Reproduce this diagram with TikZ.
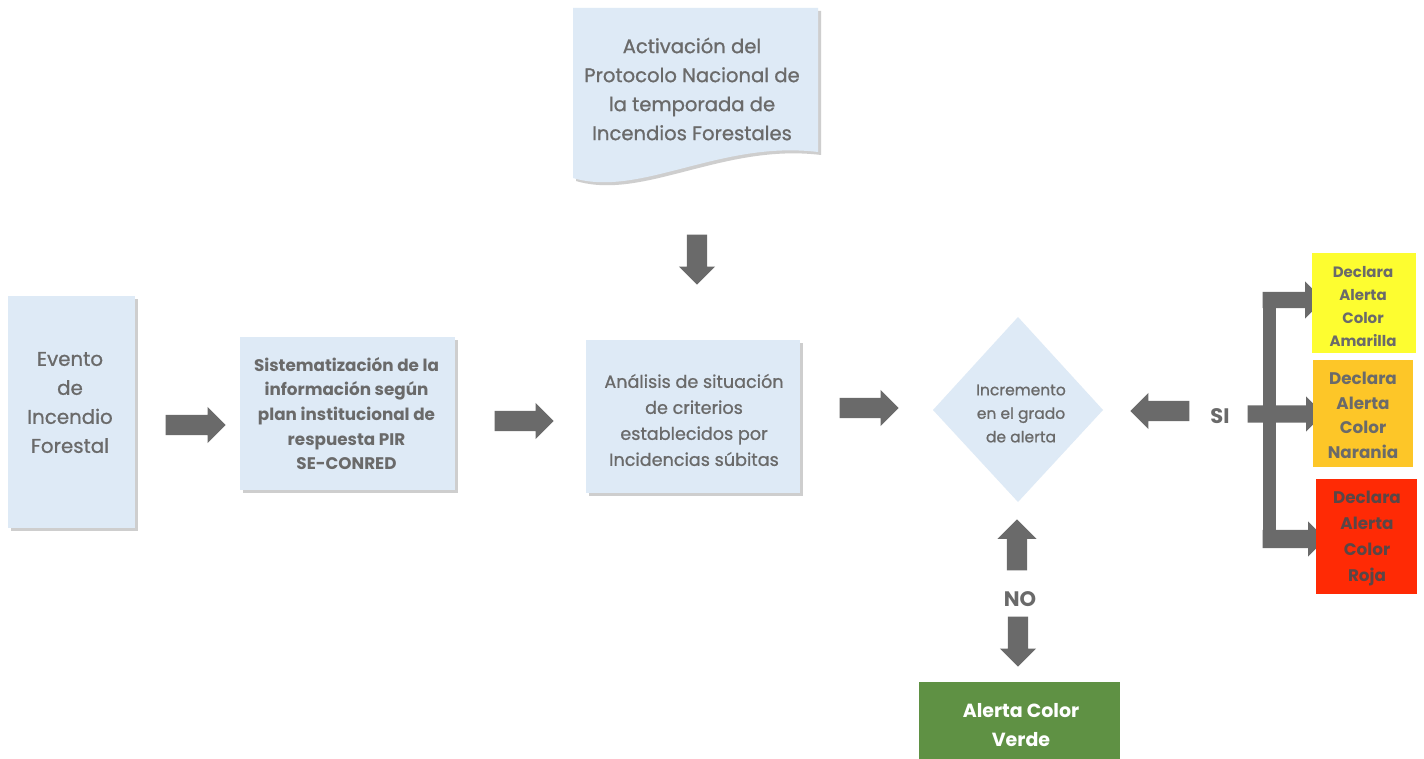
\documentclass[tikz,border=0pt]{standalone}
\usepackage{fontspec}
\setmainfont{Poppins}
\newfontfamily\medfont{Poppins}[FakeBold=0.9]
\usetikzlibrary{shapes.geometric,shapes.arrows,shadows}
\definecolor{boxblue}{HTML}{DEEAF6}
\definecolor{txtgray}{HTML}{6A6A6A}
\definecolor{arrowgray}{HTML}{6A6A6A}
\definecolor{ayellow}{HTML}{FDFD30}
\definecolor{aorange}{HTML}{FDC628}
\definecolor{ared}{HTML}{FF2A05}
\definecolor{agreen}{HTML}{5F9144}
\definecolor{redtxt}{HTML}{5A4646}
\tikzset{
  softshadow/.style={drop shadow={shadow xshift=3pt, shadow yshift=-3pt, opacity=0.35, fill=black!55}},
  bluebox/.style={rectangle, fill=boxblue, draw=none, inner sep=0pt, softshadow},
  plainbox/.style={rectangle, draw=none, inner sep=0pt},
  btext/.style={text=txtgray, align=center, inner sep=0pt},
  blockarrow/.style={single arrow, fill=arrowgray, draw=none, inner xsep=0pt, inner ysep=10pt,
     single arrow head extend=8pt, single arrow tip angle=90, anchor=tip},
}
\begin{document}
\begin{tikzpicture}[x=1pt,y=-1pt]
\useasboundingbox (0,0) rectangle (1424,759);
\fill[white] (0,0) rectangle (1424,759);

% document shape
\path[fill=boxblue, softshadow] (573,8) -- (818,8) -- (818,152)
   .. controls (720,140) and (640,198) .. (573,178) -- cycle;
\node[btext, font=\medfont\fontsize{19.6}{29}\selectfont] (doc) at (692,89)
  {Activación del\\Protocolo Nacional de\\la temporada de\\Incendios Forestales};
\node[blockarrow, minimum height=50pt, rotate=-90] (aDoc) at (697,285) {};

% evento
\node[bluebox, minimum width=127pt, minimum height=232pt] (evento) at (71.5,412) {};
\node[btext, font=\medfont\fontsize{19.8}{29}\selectfont] (eventoT) at (70,402.5)
  {Evento\\de\\Incendio\\Forestal};
\node[blockarrow, minimum height=60pt] (a1) at (226,425) {};

% sistematizacion
\node[bluebox, minimum width=215pt, minimum height=153pt] (sist) at (347.5,413.5) {};
\node[btext, font=\bfseries\fontsize{16.8}{24.7}\selectfont] (sistT) at (346.5,413.5)
  {Sistematización de la\\información según\\plan institucional de\\respuesta PIR\\SE-CONRED};
\node[blockarrow, minimum height=59pt] (a2) at (554,421) {};

% analisis
\node[bluebox, minimum width=214pt, minimum height=153pt] (anal) at (693,416.5) {};
\node[btext, font=\medfont\fontsize{17.6}{26}\selectfont] (analT) at (694,420)
  {Análisis de situación\\de criterios\\establecidos por\\Incidencias súbitas};
\node[blockarrow, minimum height=59pt] (a3) at (899,408) {};

% diamond
\path[fill=boxblue] (1018,317) -- (1103,410) -- (1018,502) -- (933,410) -- cycle;
\node[btext, font=\medfont\fontsize{15.5}{23.5}\selectfont] (diam) at (1021,413.5)
  {Incremento\\en el grado\\de alerta};

% SI
\node[blockarrow, minimum height=59pt, rotate=180] (aSI) at (1130,411) {};
\node[btext, font=\bfseries\fontsize{21}{24}\selectfont] (si) at (1220,416) {SI};
\fill[arrowgray] (1263,292) rectangle (1276,548);
\node[blockarrow, minimum height=61pt, inner ysep=8pt, single arrow head extend=10.5pt] (bTop) at (1324,300) {};
\node[blockarrow, minimum height=76pt, inner ysep=8.5pt, single arrow head extend=9pt] (bMid) at (1324,414) {};
\node[blockarrow, minimum height=63pt, inner ysep=9pt, single arrow head extend=8.5pt] (bBot) at (1326,539) {};

% coloured boxes
\node[plainbox, fill=ayellow, minimum width=104pt, minimum height=100pt] (yel) at (1364,303) {};
\node[btext, font=\bfseries\fontsize{15}{23}\selectfont] (yelT) at (1363,306.5)
  {Declara\\Alerta\\Color\\Amarilla};
\node[plainbox, fill=aorange, minimum width=100pt, minimum height=107pt] (ora) at (1363,413.5) {};
\node[btext, font=\bfseries\fontsize{16.8}{24.5}\selectfont] (oraT) at (1363,415.5)
  {Declara\\Alerta\\Color\\Narania};
\node[plainbox, fill=ared, minimum width=101pt, minimum height=115pt] (red) at (1366.5,536.5) {};
\node[btext, text=redtxt, font=\bfseries\fontsize{16.8}{26}\selectfont] (redT) at (1367,538.5)
  {Declara\\Alerta\\Color\\Roja};

% NO
\node[blockarrow, minimum height=51pt, inner ysep=10pt, single arrow head extend=9.5pt, rotate=90] (aUp) at (1017,519) {};
\node[btext, font=\bfseries\fontsize{21}{24}\selectfont] (no) at (1020,599) {NO};
\node[blockarrow, minimum height=50pt, rotate=-90] (aDown) at (1018,667) {};
\node[plainbox, fill=agreen, minimum width=201pt, minimum height=77pt] (verde) at (1019.5,720.5) {};
\node[btext, text=white, font=\bfseries\fontsize{19}{29}\selectfont] (verdeT) at (1021,725.5)
  {Alerta Color\\Verde};
\end{tikzpicture}
\end{document}
